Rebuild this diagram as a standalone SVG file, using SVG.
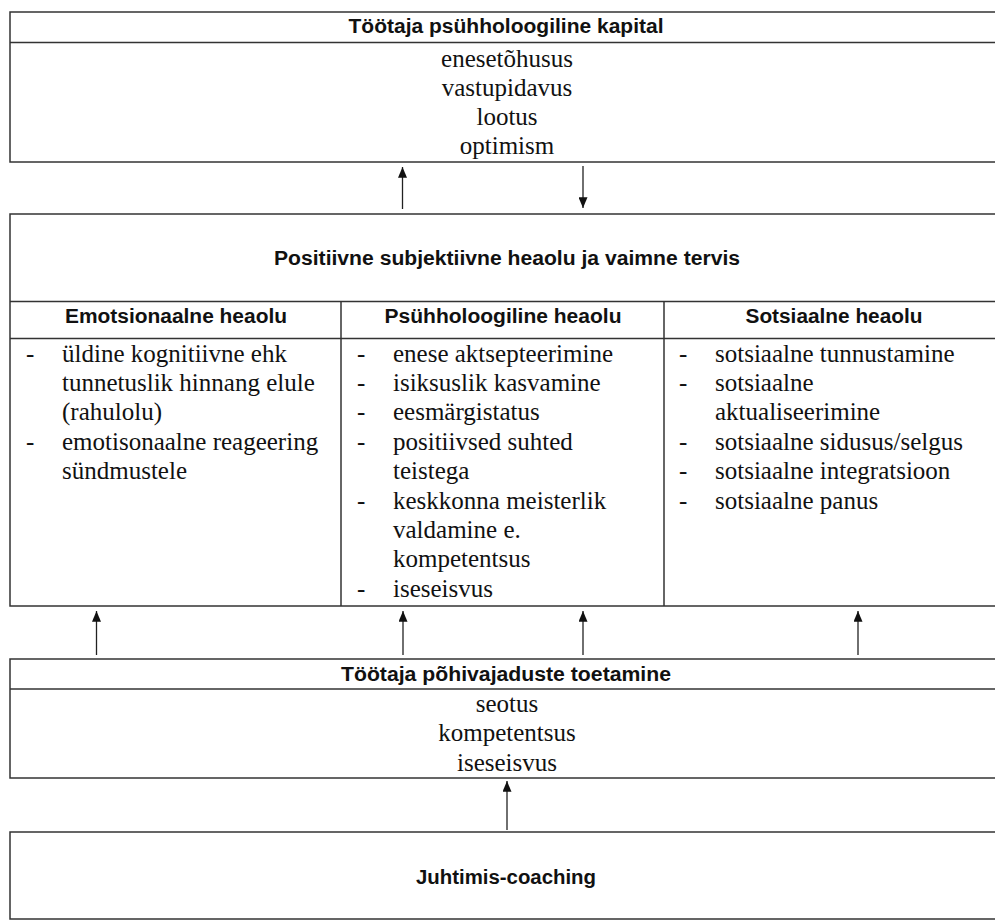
<svg xmlns="http://www.w3.org/2000/svg" width="995" height="922" viewBox="0 0 995 922">
<style>
.box{fill:#fff;stroke:#333;stroke-width:1.5}
.ln{stroke:#333;stroke-width:1.5;fill:none}
.h{font-family:"Liberation Sans",Arial,sans-serif;font-weight:bold;font-size:20px;fill:#111;text-anchor:middle}
.t{font-family:"Liberation Serif","Times New Roman",serif;font-size:25px;fill:#111}
.c{text-anchor:middle}
.arr{stroke:#222;stroke-width:1.3;fill:none;marker-end:url(#ah)}
</style>
<defs>
<marker id="ah" viewBox="0 0 12 10" refX="12" refY="5" markerWidth="12" markerHeight="9" markerUnits="userSpaceOnUse" orient="auto">
<path d="M0,0 L12,5 L0,10 z" fill="#111"/>
</marker>
</defs>
<rect width="995" height="922" fill="#fff"/>

<g id="kapital">
<rect class="box" x="10" y="12" width="1000" height="150"/>
<line class="ln" x1="10" y1="42.5" x2="1010" y2="42.5"/>
<text class="h" x="506" y="33" textLength="315" lengthAdjust="spacingAndGlyphs">Töötaja psühholoogiline kapital</text>
<text class="t c" x="507" y="67">enesetõhusus</text>
<text class="t c" x="507" y="96">vastupidavus</text>
<text class="t c" x="507" y="125">lootus</text>
<text class="t c" x="507" y="154">optimism</text>
</g>

<g id="heaolu">
<rect class="box" x="10" y="214" width="1000" height="392"/>
<line class="ln" x1="10" y1="301.5" x2="1010" y2="301.5"/>
<line class="ln" x1="10" y1="338.5" x2="1010" y2="338.5"/>
<line class="ln" x1="341" y1="301.5" x2="341" y2="606"/>
<line class="ln" x1="664" y1="301.5" x2="664" y2="606"/>
<text class="h" x="507" y="265" textLength="466" lengthAdjust="spacingAndGlyphs">Positiivne subjektiivne heaolu ja vaimne tervis</text>
</g>

<g id="emotsionaalne">
<text class="h" x="176" y="323" textLength="222" lengthAdjust="spacingAndGlyphs">Emotsionaalne heaolu</text>
<text class="t" x="26" y="362">-</text>
<text class="t" x="62" y="362">üldine kognitiivne ehk</text>
<text class="t" x="62" y="391">tunnetuslik hinnang elule</text>
<text class="t" x="62" y="420">(rahulolu)</text>
<text class="t" x="26" y="450">-</text>
<text class="t" x="62" y="450">emotisonaalne reageering</text>
<text class="t" x="62" y="479">sündmustele</text>
</g>

<g id="psyhholoogiline">
<text class="h" x="503" y="323" textLength="237" lengthAdjust="spacingAndGlyphs">Psühholoogiline heaolu</text>
<text class="t" x="357" y="362">-</text>
<text class="t" x="393" y="362">enese aktsepteerimine</text>
<text class="t" x="357" y="391">-</text>
<text class="t" x="393" y="391">isiksuslik kasvamine</text>
<text class="t" x="357" y="420">-</text>
<text class="t" x="393" y="420">eesmärgistatus</text>
<text class="t" x="357" y="450">-</text>
<text class="t" x="393" y="450">positiivsed suhted</text>
<text class="t" x="393" y="479">teistega</text>
<text class="t" x="357" y="509">-</text>
<text class="t" x="393" y="509">keskkonna meisterlik</text>
<text class="t" x="393" y="538">valdamine e.</text>
<text class="t" x="393" y="567">kompetentsus</text>
<text class="t" x="357" y="597">-</text>
<text class="t" x="393" y="597">iseseisvus</text>
</g>

<g id="sotsiaalne">
<text class="h" x="834" y="323" textLength="177" lengthAdjust="spacingAndGlyphs">Sotsiaalne heaolu</text>
<text class="t" x="679" y="362">-</text>
<text class="t" x="715" y="362">sotsiaalne tunnustamine</text>
<text class="t" x="679" y="391">-</text>
<text class="t" x="715" y="391">sotsiaalne</text>
<text class="t" x="715" y="420">aktualiseerimine</text>
<text class="t" x="679" y="450">-</text>
<text class="t" x="715" y="450">sotsiaalne sidusus/selgus</text>
<text class="t" x="679" y="479">-</text>
<text class="t" x="715" y="479">sotsiaalne integratsioon</text>
<text class="t" x="679" y="509">-</text>
<text class="t" x="715" y="509">sotsiaalne panus</text>
</g>

<g id="pohivajadused">
<rect class="box" x="10" y="659" width="1000" height="119"/>
<line class="ln" x1="10" y1="689" x2="1010" y2="689"/>
<text class="h" x="506" y="681" textLength="330" lengthAdjust="spacingAndGlyphs">Töötaja põhivajaduste toetamine</text>
<text class="t c" x="507" y="712">seotus</text>
<text class="t c" x="507" y="741">kompetentsus</text>
<text class="t c" x="507" y="771">iseseisvus</text>
</g>

<g id="coaching">
<rect class="box" x="10" y="832" width="1000" height="87"/>
<text class="h" x="506" y="884" textLength="180" lengthAdjust="spacingAndGlyphs">Juhtimis-coaching</text>
</g>

<g id="connectors">
<line class="arr" x1="402.5" y1="209" x2="402.5" y2="167"/>
<line class="arr" x1="583" y1="166" x2="583" y2="208"/>
<line class="arr" x1="96.5" y1="655" x2="96.5" y2="611"/>
<line class="arr" x1="403" y1="655" x2="403" y2="611"/>
<line class="arr" x1="583" y1="655" x2="583" y2="611"/>
<line class="arr" x1="858" y1="655" x2="858" y2="611"/>
<line class="arr" x1="507" y1="830" x2="507" y2="781"/>
</g>
</svg>
